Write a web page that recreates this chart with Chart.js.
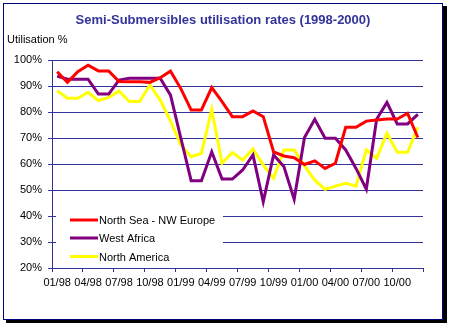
<!DOCTYPE html>
<html>
<head>
<meta charset="utf-8">
<script src="https://cdn.jsdelivr.net/npm/chart.js@4/dist/chart.umd.min.js"></script>
<style>
  body { margin: 0; background: #fff; }
  canvas { display: block; }
</style>
</head>
<body>
<canvas id="rigChart" width="449" height="325"></canvas>
<script>
const months = ['01/98', '02/98', '03/98', '04/98', '05/98', '06/98', '07/98', '08/98', '09/98', '10/98', '11/98', '12/98',
    '01/99', '02/99', '03/99', '04/99', '05/99', '06/99', '07/99', '08/99', '09/99', '10/99', '11/99', '12/99',
    '01/00', '02/00', '03/00', '04/00', '05/00', '06/00', '07/00', '08/00', '09/00', '10/00', '11/00', '12/00'];

const northSea = [95.5, 91.4, 95.5, 98, 95.8, 95.8, 91.7, 91.6, 91.6, 91.4, 93.2, 95.7,
    89, 80.8, 80.8, 89.4, 84, 78.2, 78.2, 80.4, 78.2, 64.7, 63.1, 62.4,
    59.8, 61.2, 58.3, 60.3, 74.1, 74.1, 76.5, 76.9, 77.3, 77.3, 79.5, 70.2];

const westAfrica = [93.8, 92.6, 92.6, 92.6, 86.9, 86.9, 92.3, 93, 93, 93, 93, 86.5,
    70, 53.6, 53.6, 64.7, 54.2, 54.2, 57.7, 63.5, 45.5, 63.5, 59, 46.4,
    70.2, 77.2, 69.9, 69.9, 65.4, 58.3, 50.3, 77.2, 83.7, 75.4, 75.4, 79.1];

const northAmerica = [88.2, 85.3, 85.3, 87.6, 84.4, 85.6, 88.1, 84, 84, 90.4, 84.6, 76.5,
    67.3, 62.8, 64.1, 81, 60.3, 64.4, 61.5, 65.8, 59.6, 54.5, 65.4, 65.4,
    59.3, 53.8, 50.3, 51.5, 52.6, 51.5, 65.4, 62.2, 71.8, 64.5, 64.5, 74.1];

const seriesNames = ['North Sea - NW Europe', 'West Africa', 'North America'];
const seriesColors = ['#ff0000', '#800080', '#ffff00'];
const yTicks = [20, 30, 40, 50, 60, 70, 80, 90, 100];

const navy = '#333399';

// frame, shadow, title and axis caption
const framePlugin = {
    id: 'frame',
    beforeDraw(chart) {
        const ctx = chart.ctx;
        ctx.save();
        ctx.fillStyle = '#fff';
        ctx.fillRect(0, 0, chart.width, chart.height);
        ctx.fillStyle = '#000';
        ctx.fillRect(6, 6, 441, 317);
        ctx.fillStyle = '#fff';
        ctx.fillRect(3, 3, 439, 316);
        ctx.strokeStyle = '#000080';
        ctx.lineWidth = 1;
        ctx.strokeRect(3.5, 3.5, 439, 316);

        ctx.fillStyle = navy;
        ctx.font = 'bold 13px Arial, "Liberation Sans", sans-serif';
        ctx.textAlign = 'center';
        ctx.textBaseline = 'alphabetic';
        ctx.fillText('Semi-Submersibles utilisation rates (1998-2000)', 223, 24);

        ctx.fillStyle = '#000';
        ctx.font = '11px Arial, "Liberation Sans", sans-serif';
        ctx.textAlign = 'left';
        ctx.fillText('Utilisation %', 7, 43);
        ctx.restore();
    }
};

// legend box sitting inside the plot area, bottom left
const legendPlugin = {
    id: 'insideLegend',
    afterDatasetsDraw(chart) {
        const ctx = chart.ctx;
        ctx.save();
        ctx.fillStyle = '#fff';
        ctx.fillRect(56, 204, 167, 63);
        ctx.font = '11px Arial, "Liberation Sans", sans-serif';
        ctx.textBaseline = 'middle';
        ctx.textAlign = 'left';
        const rows = [220, 238, 256.5];
        chart.data.datasets.forEach((ds, i) => {
            ctx.strokeStyle = ds.borderColor;
            ctx.lineWidth = 3;
            ctx.beginPath();
            ctx.moveTo(70, rows[i]);
            ctx.lineTo(98, rows[i]);
            ctx.stroke();
            ctx.fillStyle = '#000';
            ctx.fillText(ds.label, 99, rows[i] + 1);
        });
        ctx.restore();
    }
};

const datasets = [northSea, westAfrica, northAmerica].map((values, i) => ({
    label: seriesNames[i],
    data: values,
    borderColor: seriesColors[i],
    backgroundColor: seriesColors[i],
    borderWidth: 3,
    pointRadius: 0,
    tension: 0,
    fill: false
}));

new Chart(document.getElementById('rigChart'), {
    type: 'line',
    data: { labels: months, datasets: datasets },
    options: {
        responsive: false,
        animation: false,
        devicePixelRatio: 1,
        layout: { padding: { top: 60, right: 26, left: 0, bottom: 0 } },
        plugins: {
            legend: { display: false },
            tooltip: { enabled: false }
        },
        scales: {
            x: {
                type: 'category',
                offset: true,
                afterFit: scale => { scale.height = 57; },
                grid: {
                    offset: true,
                    drawOnChartArea: false,
                    tickLength: 4,
                    color: c => (c.index === undefined || c.index % 3 === 0) ? navy : 'rgba(0,0,0,0)'
                },
                border: { display: true, color: navy, width: 1 },
                ticks: {
                    autoSkip: false,
                    maxRotation: 0,
                    minRotation: 0,
                    padding: 4,
                    color: '#000',
                    font: { family: 'Arial, "Liberation Sans", sans-serif', size: 11 },
                    callback: function (value, index) {
                        return index % 3 === 0 ? this.getLabelForValue(value) : '';
                    }
                }
            },
            y: {
                min: yTicks[0],
                max: yTicks[yTicks.length - 1],
                afterFit: scale => { scale.width = 52; },
                afterBuildTicks: scale => { scale.ticks = yTicks.map(v => ({ value: v })); },
                grid: { color: navy, lineWidth: 1, tickLength: 4 },
                border: { display: true, color: navy, width: 1 },
                ticks: {
                    padding: 6,
                    color: '#000',
                    font: { family: 'Arial, "Liberation Sans", sans-serif', size: 11 },
                    callback: v => v + '%'
                }
            }
        }
    },
    plugins: [framePlugin, legendPlugin]
});
</script>
</body>
</html>
